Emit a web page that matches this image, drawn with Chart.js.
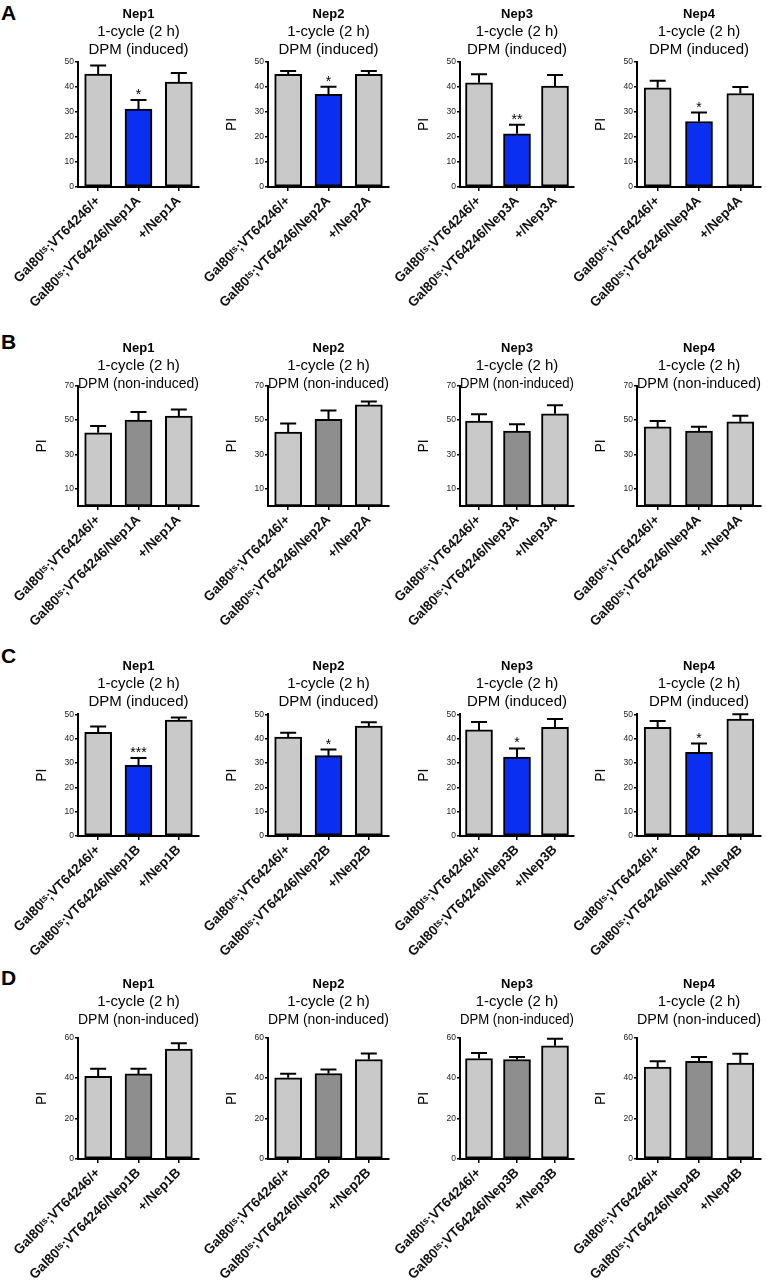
<!DOCTYPE html>
<html>
<head>
<meta charset="utf-8">
<script src="https://cdn.jsdelivr.net/npm/chart.js@4.4.1/dist/chart.umd.min.js"></script>
<style>
  html, body { margin: 0; padding: 0; background: #fff; overflow: hidden; }
  body { width: 767px; height: 1280px; position: relative; font-family: 'Liberation Sans', Arial, sans-serif; }
  canvas { position: absolute; }
  .tag { position: absolute; left: 1px; font-weight: bold; font-size: 21px; line-height: 21px; }
</style>
</head>
<body>
<div class="tag" style="top:2px">A</div>
<div class="tag" style="top:331px">B</div>
<div class="tag" style="top:645px">C</div>
<div class="tag" style="top:967px">D</div>
<script>
// data (PI, mean and upper SEM)
var genes = ['Nep1', 'Nep2', 'Nep3', 'Nep4'];
var rnaiA = ['Nep1A', 'Nep2A', 'Nep3A', 'Nep4A'];
var rnaiB = ['Nep1B', 'Nep2B', 'Nep3B', 'Nep4B'];

var meansA = [[45.2, 31.2, 42.0], [45.1, 37.1, 45.1], [41.7, 21.3, 40.4], [39.7, 26.2, 37.4]];
var errsA  = [[3.4, 3.6, 3.6], [1.3, 3.0, 1.3], [3.4, 3.6, 4.4], [2.8, 3.6, 2.6]];
var starsA = [['', '*', ''], ['', '*', ''], ['', '**', ''], ['', '*', '']];

var meansB = [[42.6, 50.0, 52.3], [43.0, 50.5, 58.8], [49.4, 43.6, 53.7], [46.0, 43.6, 49.0]];
var errsB  = [[3.9, 4.7, 3.9], [5.0, 5.0, 2.0], [4.0, 3.9, 4.9], [3.5, 2.5, 3.5]];
var starsB = [['', '', ''], ['', '', ''], ['', '', ''], ['', '', '']];

var meansC = [[42.6, 29.0, 47.6], [40.6, 33.0, 45.2], [43.6, 32.4, 44.6], [44.6, 34.4, 48.0]];
var errsC  = [[2.4, 3.0, 1.1], [1.8, 2.5, 1.5], [3.2, 3.6, 3.5], [2.6, 3.6, 2.0]];
var starsC = [['', '***', ''], ['', '*', ''], ['', '*', ''], ['', '*', '']];

var meansD = [[40.9, 42.1, 54.4], [40.2, 42.3, 49.2], [49.7, 49.2, 56.0], [45.5, 48.3, 47.5]];
var errsD  = [[3.8, 2.6, 2.8], [2.0, 2.0, 3.0], [2.7, 1.3, 3.5], [2.8, 2.2, 4.5]];
var starsD = [['', '', ''], ['', '', ''], ['', '', ''], ['', '', '']];

var yTicksA = [0, 10, 20, 30, 40, 50];
var yTicksB = [10, 30, 50, 70];
var yTicksC = [0, 10, 20, 30, 40, 50];
var yTicksD = [0, 20, 40, 60];

// layout
var FONT = "'Liberation Sans', Arial, sans-serif";
var LIGHT = '#c9c9c9', DARK = '#8e8e8e', BLUE = '#0a2ff0';
var chartL = [78, 268, 460, 637];
var chartW = [121, 121, 114, 124];
var YW = 44, PL = 34, PR = 4, XH = 130;

var rows = [
  { top: 6,   height: 311, gap: 3.35, cond: 'DPM (induced)',     rnai: rnaiA, means: meansA, errs: errsA, stars: starsA, ticks: yTicksA, mid: BLUE },
  { top: 340, height: 296, gap: -6.95, cond: 'DPM (non-induced)', rnai: rnaiA, means: meansB, errs: errsB, stars: starsB, ticks: yTicksB, mid: DARK },
  { top: 658, height: 308, gap: 3.65, cond: 'DPM (induced)',     rnai: rnaiB, means: meansC, errs: errsC, stars: starsC, ticks: yTicksC, mid: BLUE },
  { top: 976, height: 313, gap: 9.05, cond: 'DPM (non-induced)', rnai: rnaiB, means: meansD, errs: errsD, stars: starsD, ticks: yTicksD, mid: DARK }
];

var errorBars = {
  id: 'errorBars',
  afterDatasetsDraw: function(chart, args, opts) {
    var ctx = chart.ctx;
    var y = chart.scales.y;
    var ds = chart.data.datasets[0];
    var meta = chart.getDatasetMeta(0);
    ctx.save();
    ctx.strokeStyle = '#000';
    ctx.fillStyle = '#000';
    ctx.lineWidth = 2;
    meta.data.forEach(function(bar, i) {
      var yTop = y.getPixelForValue(ds.data[i] + opts.errs[i]);
      ctx.beginPath();
      ctx.moveTo(bar.x, bar.y);
      ctx.lineTo(bar.x, yTop);
      ctx.moveTo(bar.x - 8, yTop);
      ctx.lineTo(bar.x + 8, yTop);
      ctx.stroke();
      if (opts.stars[i]) {
        ctx.font = '14px ' + FONT;
        ctx.textAlign = 'center';
        ctx.textBaseline = 'alphabetic';
        ctx.fillText(opts.stars[i], bar.x, yTop - 1);
      }
    });
    ctx.restore();
  }
};

function makeLabels(rnai) {
  return ['Gal80\u1D57\u02E2;VT64246/+', 'Gal80\u1D57\u02E2;VT64246/' + rnai, '+/' + rnai];
}

rows.forEach(function(row, r) {
  genes.forEach(function(gene, c) {
    var cv = document.createElement('canvas');
    var left = chartL[c] - YW - PL;
    var width = YW + PL + chartW[c] + PR;
    cv.width = width;
    cv.height = row.height;
    cv.style.left = left + 'px';
    cv.style.top = row.top + 'px';
    document.body.appendChild(cv);

    var ticks = row.ticks;
    new Chart(cv.getContext('2d'), {
      type: 'bar',
      data: {
        labels: makeLabels(row.rnai[c]),
        datasets: [{
          data: row.means[c],
          backgroundColor: [LIGHT, row.mid, LIGHT],
          borderColor: '#000',
          borderWidth: 2,
          borderSkipped: false,
          barThickness: 27
        }]
      },
      options: {
        responsive: false,
        animation: false,
        devicePixelRatio: 1,
        layout: { padding: { left: PL, right: PR, top: 0, bottom: 0 } },
        plugins: {
          legend: { display: false },
          tooltip: { enabled: false },
          title: {
            display: true, text: gene, fullSize: false, color: '#000',
            font: { family: FONT, size: 13, weight: 'bold', lineHeight: 1.35 },
            padding: { top: 0, bottom: 0 }
          },
          subtitle: {
            display: true, text: ['1-cycle (2 h)', row.cond], fullSize: false, color: '#000',
            font: { family: FONT, size: 15, lineHeight: 1.17 },
            padding: { top: 0, bottom: row.gap }
          },
          errorBars: { errs: row.errs[c], stars: row.stars[c] }
        },
        scales: {
          x: {
            offset: true,
            grid: { display: true, drawOnChartArea: false, offset: false, tickLength: 4, color: '#000', lineWidth: 1.5 },
            border: { display: true, color: '#000', width: 2 },
            ticks: {
              autoSkip: false, minRotation: 45, maxRotation: 45, padding: 2, color: '#111',
              font: { family: FONT, size: 13.5, weight: 'bold' }
            },
            afterFit: function(s) { s.height = XH; s.paddingLeft = 0; s.paddingRight = 0; }
          },
          y: {
            min: 0,
            max: ticks[ticks.length - 1],
            grid: { display: true, drawOnChartArea: false, tickLength: 3, color: '#000', lineWidth: 1.5 },
            border: { display: true, color: '#000', width: 2 },
            ticks: { padding: 1, color: '#222', font: { family: FONT, size: 8.5 } },
            title: {
              display: !(r === 0 && c === 0), text: 'PI', color: '#000',
              font: { family: FONT, size: 14 }, padding: 0
            },
            afterBuildTicks: function(s) { s.ticks = ticks.map(function(v) { return { value: v }; }); },
            afterFit: function(s) { s.width = YW; }
          }
        }
      },
      plugins: [errorBars]
    });
  });
});
</script>
</body>
</html>
